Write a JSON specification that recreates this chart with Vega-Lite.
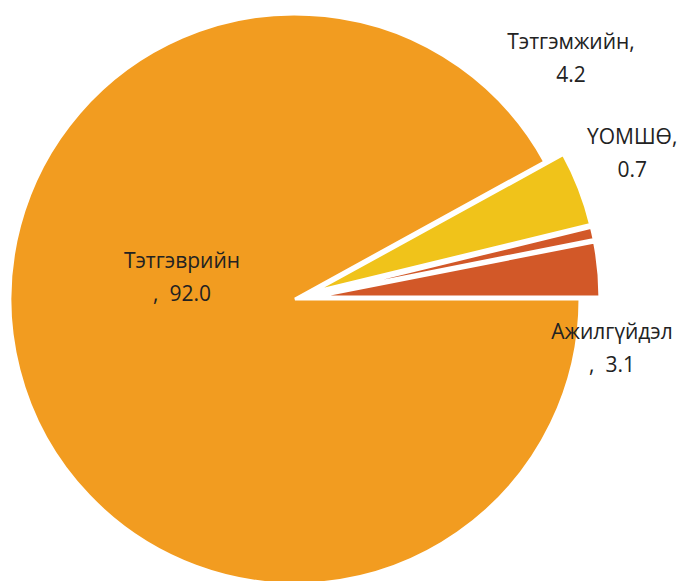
{
  "$schema": "https://vega.github.io/schema/vega-lite/v6.json",
  "width": 590,
  "height": 564,
  "autosize": "none",
  "padding": {"left": 0, "top": 17, "right": 93, "bottom": 0},
  "background": "white",
  "config": {"view": {"stroke": null}},
  "data": {
    "values": [
      {"cat": "Тэтгэмжийн", "value": 4.2, "ord": 1, "label": "Тэтгэмжийн,\n4.2"},
      {"cat": "ҮОМШӨ", "value": 0.7, "ord": 2, "label": "ҮОМШӨ,\n0.7"},
      {"cat": "Ажилгүйдэл", "value": 3.1, "ord": 3, "label": "Ажилгүйдэл\n,\u00a0\u00a03.1"},
      {"cat": "Тэтгэврийн", "value": 92.0, "ord": 4, "label": "Тэтгэврийн\n,\u00a0\u00a092.0"}
    ]
  },
  "transform": [
    {"stack": "value", "groupby": [], "sort": [{"field": "ord", "order": "ascending"}], "as": ["v0", "v1"]}
  ],
  "layer": [
    {
      "transform": [{"filter": "datum.cat === 'Тэтгэврийн'"}],
      "mark": {"type": "arc", "outerRadius": 285, "stroke": "white", "strokeWidth": 3},
      "encoding": {
        "theta": {"field": "v0", "type": "quantitative", "scale": {"domain": [0, 100], "range": [1.0681, 7.3513]}},
        "theta2": {"field": "v1"},
        "color": {"field": "cat", "type": "nominal", "legend": null,
          "scale": {"domain": ["Тэтгэмжийн", "ҮОМШӨ", "Ажилгүйдэл", "Тэтгэврийн"], "range": ["#F0C31A", "#D25828", "#D25828", "#F29C20"]}}
      }
    },
    {
      "transform": [{"filter": "datum.cat === 'Тэтгэмжийн'"}],
      "mark": {"type": "arc", "outerRadius": 285, "stroke": "white", "strokeWidth": 3, "xOffset": 18.6, "yOffset": -7.2},
      "encoding": {
        "theta": {"field": "v0", "type": "quantitative", "scale": {"domain": [0, 100], "range": [1.0681, 7.3513]}},
        "theta2": {"field": "v1"},
        "color": {"field": "cat", "type": "nominal", "legend": null}
      }
    },
    {
      "transform": [{"filter": "datum.cat === 'ҮОМШӨ'"}],
      "mark": {"type": "arc", "outerRadius": 285, "stroke": "white", "strokeWidth": 3, "xOffset": 19.5, "yOffset": -4.3},
      "encoding": {
        "theta": {"field": "v0", "type": "quantitative", "scale": {"domain": [0, 100], "range": [1.0681, 7.3513]}},
        "theta2": {"field": "v1"},
        "color": {"field": "cat", "type": "nominal", "legend": null}
      }
    },
    {
      "transform": [{"filter": "datum.cat === 'Ажилгүйдэл'"}],
      "mark": {"type": "arc", "outerRadius": 285, "stroke": "white", "strokeWidth": 3, "xOffset": 19.9, "yOffset": -1.9},
      "encoding": {
        "theta": {"field": "v0", "type": "quantitative", "scale": {"domain": [0, 100], "range": [1.0681, 7.3513]}},
        "theta2": {"field": "v1"},
        "color": {"field": "cat", "type": "nominal", "legend": null}
      }
    },
    {
      "transform": [{"filter": "datum.cat === 'Тэтгэмжийн'"}],
      "mark": {"type": "text", "radius": 315, "dy": -104, "font": "Open Sans", "fontSize": 21, "lineBreak": "\n", "lineHeight": 33, "align": "center", "baseline": "middle", "color": "#222222"},
      "encoding": {
        "theta": {"field": "v0", "type": "quantitative", "scale": {"domain": [0, 100], "range": [1.0681, 7.3513]}},
        "text": {"field": "label"}
      }
    },
    {
      "transform": [{"filter": "datum.cat === 'ҮОМШӨ'"}],
      "mark": {"type": "text", "radius": 347, "dy": -79, "font": "Open Sans", "fontSize": 21, "lineBreak": "\n", "lineHeight": 33, "align": "center", "baseline": "middle", "color": "#222222"},
      "encoding": {
        "theta": {"field": "v0", "type": "quantitative", "scale": {"domain": [0, 100], "range": [1.0681, 7.3513]}},
        "text": {"field": "label"}
      }
    },
    {
      "transform": [{"filter": "datum.cat === 'Ажилгүйдэл'"}],
      "mark": {"type": "text", "radius": 317, "dy": 34, "font": "Open Sans", "fontSize": 21, "lineBreak": "\n", "lineHeight": 33, "align": "center", "baseline": "middle", "color": "#222222"},
      "encoding": {
        "theta": {"field": "v1", "type": "quantitative", "scale": {"domain": [0, 100], "range": [1.0681, 7.3513]}},
        "text": {"field": "label"}
      }
    },
    {
      "transform": [{"filter": "datum.cat === 'Тэтгэврийн'"}],
      "mark": {"type": "text", "radius": 0, "dx": -113, "dy": -37, "font": "Open Sans", "fontSize": 21, "lineBreak": "\n", "lineHeight": 33, "align": "center", "baseline": "middle", "color": "#222222"},
      "encoding": {
        "theta": {"field": "v0", "type": "quantitative", "scale": {"domain": [0, 100], "range": [1.0681, 7.3513]}},
        "text": {"field": "label"}
      }
    }
  ]
}
